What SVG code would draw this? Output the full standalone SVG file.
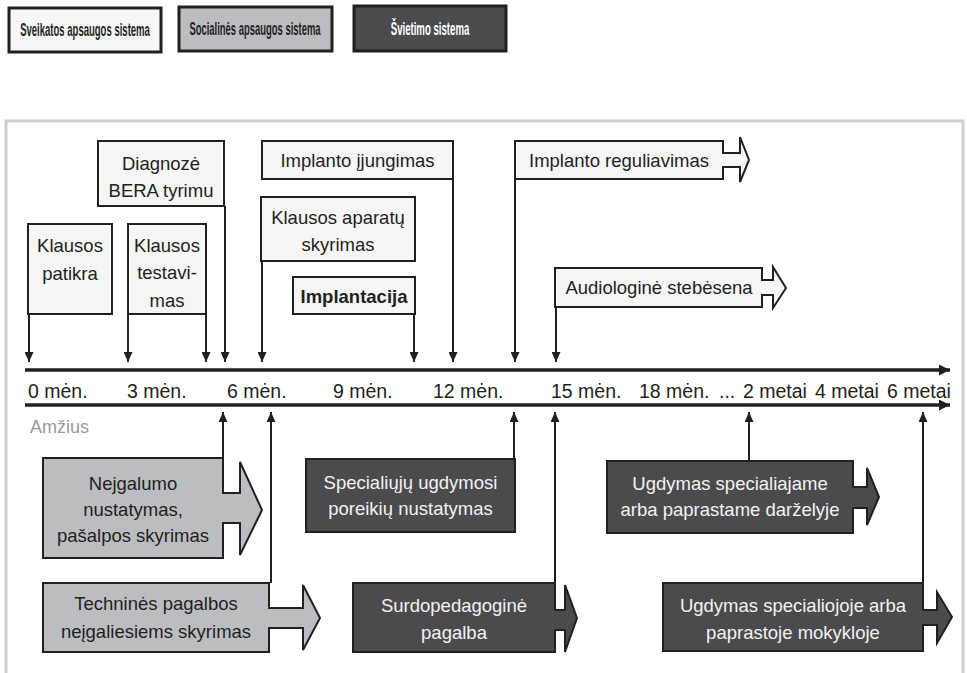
<svg xmlns="http://www.w3.org/2000/svg" width="967" height="673" viewBox="0 0 967 673">
<style>
  text { font-family: "Liberation Sans", Arial, sans-serif; }
  .t { font-size: 18.5px; fill: #231f20; text-anchor: middle; }
  .tw { font-size: 18.5px; fill: #f2f2f2; text-anchor: middle; }
  .lg { font-size: 17.5px; font-weight: bold; text-anchor: middle; }
  .ax { font-size: 19.5px; fill: #231f20; }
  .light { fill: #f6f6f6; stroke: #231f20; stroke-width: 2; }
  .gray { fill: #bcbdc0; stroke: #231f20; stroke-width: 2; }
  .dark { fill: #4b4b4d; stroke: #231f20; stroke-width: 2; }
  .leg { stroke: #231f20; stroke-width: 3; }
  .con { stroke: #231f20; stroke-width: 2; fill: none; marker-end: url(#ah); }
  .axis { stroke: #231f20; stroke-width: 3.5; fill: none; marker-end: url(#big); }
</style>
<defs>
  <marker id="ah" markerUnits="userSpaceOnUse" markerWidth="10" markerHeight="9" refX="10" refY="4.5" orient="auto" viewBox="0 0 10 9">
    <path d="M0,0 L10,4.5 L0,9 Z" fill="#231f20"/>
  </marker>
  <marker id="big" markerUnits="userSpaceOnUse" markerWidth="11" markerHeight="11" refX="11" refY="5.5" orient="auto" viewBox="0 0 11 11">
    <path d="M0,0 L11,5.5 L0,11 Z" fill="#231f20"/>
  </marker>
</defs>
<rect width="967" height="673" fill="#ffffff"/>

<!-- Legend -->
<g id="legend-sveikatos">
  <rect class="leg" x="9" y="8" width="152" height="44" fill="#f7f7f7"/>
  <text class="lg" transform="translate(85,36) scale(0.545,1)" x="0" y="0" fill="#231f20">Sveikatos apsaugos sistema</text>
</g>
<g id="legend-socialines">
  <rect class="leg" x="179" y="7" width="153" height="44" fill="#bcbdc0"/>
  <text class="lg" transform="translate(255,35) scale(0.54,1)" x="0" y="0" fill="#231f20">Socialinės apsaugos sistema</text>
</g>
<g id="legend-svietimo">
  <rect class="leg" x="354" y="6" width="152" height="45" fill="#4b4b4d"/>
  <text class="lg" transform="translate(430,35) scale(0.55,1)" x="0" y="0" fill="#ffffff">Švietimo sistema</text>
</g>

<!-- Frame -->
<rect x="6" y="121" width="957" height="570" fill="#ffffff" stroke="#d0d0d2" stroke-width="3"/>

<!-- Health system nodes -->
<g id="diagnoze">
  <rect class="light" x="98" y="141" width="126" height="65"/>
  <text class="t" x="161" y="169.5">Diagnozė</text>
  <text class="t" x="161" y="196.5">BERA tyrimu</text>
</g>
<g id="klausos-patikra">
  <rect class="light" x="28" y="224" width="84" height="90"/>
  <text class="t" x="70" y="251.5">Klausos</text>
  <text class="t" x="70" y="279.5">patikra</text>
</g>
<g id="klausos-testavimas">
  <rect class="light" x="128" y="224" width="78" height="90"/>
  <text class="t" x="167" y="251.5">Klausos</text>
  <text class="t" x="167" y="279">testavi-</text>
  <text class="t" x="167" y="306.5">mas</text>
</g>
<g id="implanto-ijungimas">
  <rect class="light" x="262" y="141" width="191" height="38"/>
  <text class="t" x="357.5" y="166.5">Implanto įjungimas</text>
</g>
<g id="klausos-aparatu">
  <rect class="light" x="261" y="197" width="154" height="64"/>
  <text class="t" x="338" y="223.5">Klausos aparatų</text>
  <text class="t" x="338" y="251">skyrimas</text>
</g>
<g id="implantacija">
  <rect class="light" x="293" y="277" width="122" height="37"/>
  <text class="t" x="354" y="303" font-weight="bold">Implantacija</text>
</g>
<g id="implanto-reguliavimas">
  <path class="light" d="M515,141 H723 V153 H740 V137 L749,160 L740,182 V167 H723 V179 H515 Z"/>
  <text class="t" x="619" y="166.5">Implanto reguliavimas</text>
</g>
<g id="audiologine">
  <path class="light" d="M555,268 H762 V280 H773 V267 L786,288 L773,308 V295 H762 V307 H555 Z"/>
  <text class="t" x="659" y="294">Audiologinė stebėsena</text>
</g>

<!-- Timeline -->
<g id="timeline">
  <line class="axis" x1="25" y1="370" x2="950" y2="370"/>
  <line class="axis" x1="25" y1="405" x2="950" y2="405"/>
  <text class="ax" x="28" y="398">0 mėn.</text>
  <text class="ax" x="127" y="398">3 mėn.</text>
  <text class="ax" x="227" y="398">6 mėn.</text>
  <text class="ax" x="333" y="398">9 mėn.</text>
  <text class="ax" x="433" y="398">12 mėn.</text>
  <text class="ax" x="551" y="398">15 mėn.</text>
  <text class="ax" x="639" y="398">18 mėn.</text>
  <text class="ax" x="719" y="398">...</text>
  <text class="ax" x="743" y="398">2 metai</text>
  <text class="ax" x="815" y="398">4 metai</text>
  <text class="ax" x="887" y="398">6 metai</text>
  <text x="30" y="433" font-size="18" fill="#9a9a9a">Amžius</text>
</g>

<!-- Social & education nodes -->
<g id="nejgalumo">
  <path class="gray" d="M43,458 H223 V493 H240 V462 L262,510 L240,555 V523 H223 V558 H43 Z"/>
  <text class="t" x="133" y="489.5">Nejgalumo</text>
  <text class="t" x="133" y="515.5">nustatymas,</text>
  <text class="t" x="133" y="541.5">pašalpos skyrimas</text>
</g>
<g id="technines">
  <path class="gray" d="M43,583 H269 V608 H303 V585 L320,618 L303,650 V628 H269 V652 H43 Z"/>
  <text class="t" x="156" y="609.5">Techninės pagalbos</text>
  <text class="t" x="156" y="638">neįgaliesiems skyrimas</text>
</g>
<g id="specialiuju">
  <rect class="dark" x="306" y="459" width="209" height="73"/>
  <text class="tw" x="410.5" y="488.5">Specialiųjų ugdymosi</text>
  <text class="tw" x="410.5" y="514.5">poreikių nustatymas</text>
</g>
<g id="surdopedagogine">
  <path class="dark" d="M353,583 H555 V610 H565 V585 L577,618 L565,652 V630 H555 V652 H353 Z"/>
  <text class="tw" x="454" y="611.5">Surdopedagoginė</text>
  <text class="tw" x="454" y="639">pagalba</text>
</g>
<g id="ugdymas-darzelyje">
  <path class="dark" d="M607,461 H853 V487 H867 V468 L879,497 L867,525 V508 H853 V533 H607 Z"/>
  <text class="tw" x="730" y="489.5">Ugdymas specialiajame</text>
  <text class="tw" x="730" y="516">arba paprastame darželyje</text>
</g>
<g id="ugdymas-mokykloje">
  <path class="dark" d="M663,583 H923 V610 H937 V592 L952,617 L937,643 V625 H923 V651 H663 Z"/>
  <text class="tw" x="793" y="611.5">Ugdymas specialiojoje arba</text>
  <text class="tw" x="793" y="639">paprastoje mokykloje</text>
</g>

<!-- Connectors -->
<g id="connectors">
  <line class="con" x1="29" y1="314" x2="29" y2="362"/>
  <line class="con" x1="128" y1="314" x2="128" y2="362"/>
  <line class="con" x1="206" y1="314" x2="206" y2="362"/>
  <line class="con" x1="225" y1="206" x2="225" y2="362"/>
  <line class="con" x1="262" y1="261" x2="262" y2="362"/>
  <line class="con" x1="414" y1="314" x2="414" y2="362"/>
  <line class="con" x1="453" y1="179" x2="453" y2="362"/>
  <line class="con" x1="515" y1="179" x2="515" y2="362"/>
  <line class="con" x1="556" y1="307" x2="556" y2="362"/>
  <line class="con" x1="223" y1="458" x2="223" y2="412"/>
  <line class="con" x1="271" y1="583" x2="271" y2="412"/>
  <line class="con" x1="514" y1="459" x2="514" y2="412"/>
  <line class="con" x1="555" y1="583" x2="555" y2="412"/>
  <line class="con" x1="749" y1="461" x2="749" y2="412"/>
  <line class="con" x1="923" y1="583" x2="923" y2="412"/>
</g>
</svg>
